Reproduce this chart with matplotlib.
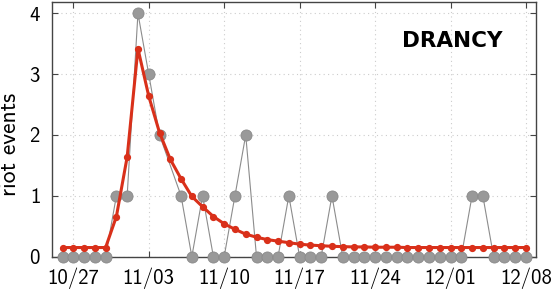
import numpy as np
import pandas as pd
import matplotlib
matplotlib.use('Agg')
import matplotlib.pyplot as plt

# daily riot events in Drancy (gray) and model fit (red)
dates = pd.date_range('2005-10-26', '2005-12-08', freq='D')

observed = [0, 0, 0, 0, 0,            # 10/26 - 10/30
            1, 1, 4, 3, 2, None, 1,   # 10/31 - 11/06
            0, 1, 0, 0, 1, 2, 0,      # 11/07 - 11/13
            0, 0, 1, 0, 0, 0, 1,      # 11/14 - 11/20
            0, 0, 0, 0, 0, 0, 0,      # 11/21 - 11/27
            0, 0, 0, 0, 0, 1, 1,      # 11/28 - 12/04
            0, 0, 0, 0]               # 12/05 - 12/08

model = [0.15, 0.15, 0.15, 0.15, 0.15,
         0.66, 1.64, 3.42, 2.64, 2.04, 1.60, 1.28,
         0.99, 0.82, 0.66, 0.54, 0.45, 0.37, 0.32,
         0.28, 0.255, 0.23, 0.205, 0.19, 0.18, 0.17,
         0.165, 0.16, 0.16, 0.155, 0.155, 0.155, 0.15,
         0.15, 0.15, 0.15, 0.15, 0.15, 0.15, 0.15,
         0.15, 0.15, 0.15, 0.15]

tick_labels = ['10/27', '11/03', '11/10', '11/17', '11/24', '12/01', '12/08']
city = 'DRANCY'

plt.rcParams['font.family'] = ['cmss10', 'DejaVu Sans']
plt.rcParams['axes.formatter.use_mathtext'] = True

fig = plt.figure(figsize=(5.52, 2.94), dpi=100)
ax = fig.add_axes([0.0937, 0.127, 0.877, 0.867])

obs = pd.Series(observed, index=dates, dtype=float).dropna()
ax.plot(obs.index, obs.values, color='#8c8c8c', lw=0.8, marker='o', ms=8,
        mfc='#999999', mec='#8a8a8a', mew=0.6, clip_on=False, zorder=3)
ax.plot(dates, model, color='#d9301a', lw=2.2, marker='o', ms=4.2,
        clip_on=False, zorder=4)

ticks = pd.to_datetime(['2005-' + t.replace('/', '-') for t in tick_labels])
ax.set_xticks(ticks)
ax.set_xticklabels(tick_labels)
ax.set_xlim(pd.Timestamp('2005-10-25'), pd.Timestamp('2005-12-08 22:00'))
ax.set_ylim(0, 4.19)
ax.set_yticks([0, 1, 2, 3, 4])

ax.tick_params(direction='in', top=True, right=True, length=4, width=0.8,
               color='#444444', labelsize=15, pad=8)
for s in ax.spines.values():
    s.set_color('#444444')
    s.set_linewidth(1.0)
ax.grid(True, ls=(0, (1, 3)), color='#cccccc', lw=0.8)
ax.set_axisbelow(True)

ax.set_ylabel('riot events', fontsize=17)
ax.yaxis.set_label_coords(-0.063, 0.442)
ax.text(0.827, 0.848, city, transform=ax.transAxes, ha='center', va='center',
        fontsize=15.5, fontweight='bold', family='DejaVu Sans')

fig.savefig('out.png', dpi=100)
